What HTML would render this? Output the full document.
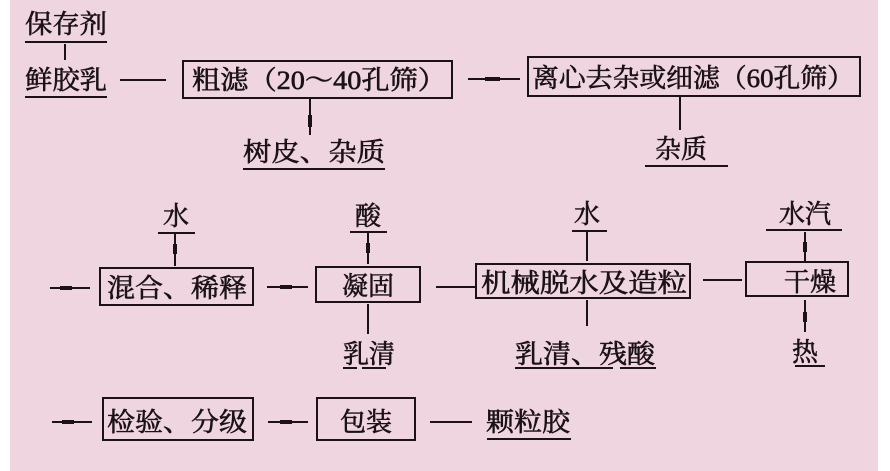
<!DOCTYPE html>
<html><head><meta charset="utf-8"><style>
html,body{margin:0;padding:0;width:890px;height:471px;overflow:hidden;background:#fff}
svg{display:block}
text{font-family:"Liberation Serif","Noto Serif CJK SC","Noto Sans CJK SC",serif;fill:#1a1216;stroke:#1a1216;stroke-width:0.6}
</style></head><body>
<svg width="890" height="471" viewBox="0 0 890 471" xmlns="http://www.w3.org/2000/svg">
<rect x="10" y="0" width="868" height="471" fill="#eed5df"/>
<g stroke="#1a1216" stroke-width="2" fill="none">
<line x1="25" y1="42" x2="107" y2="42"/>
<line x1="65" y1="44" x2="65" y2="60"/>
<line x1="25" y1="97" x2="107" y2="97"/>
<line x1="120" y1="80" x2="166" y2="80"/>
<rect x="183" y="61" width="269" height="37"/>
<line x1="310" y1="99" x2="310" y2="135"/>
<line x1="243" y1="169" x2="385" y2="169"/>
<line x1="468" y1="79" x2="520" y2="79"/>
<rect x="528" y="57" width="332" height="39"/>
<line x1="680" y1="97" x2="680" y2="130"/>
<line x1="645" y1="166" x2="728" y2="166"/>
<line x1="158" y1="233" x2="195" y2="233"/>
<line x1="175" y1="234" x2="175" y2="266"/>
<line x1="50" y1="288" x2="90" y2="288"/>
<rect x="100" y="268" width="153" height="37"/>
<line x1="267" y1="287" x2="308" y2="287"/>
<rect x="316" y="267" width="104" height="35"/>
<line x1="350" y1="232" x2="387" y2="232"/>
<line x1="368" y1="233" x2="368" y2="264"/>
<line x1="368" y1="304" x2="368" y2="334"/>
<line x1="343" y1="368" x2="357" y2="368"/><line x1="362" y1="368" x2="386" y2="368"/>
<line x1="436" y1="287" x2="475" y2="287"/>
<rect x="476" y="264" width="214" height="34"/>
<line x1="572" y1="231" x2="607" y2="231"/>
<line x1="587" y1="232" x2="587" y2="261"/>
<line x1="587" y1="300" x2="587" y2="326"/>
<line x1="515" y1="368" x2="613" y2="368"/><line x1="620" y1="368" x2="656" y2="368"/>
<line x1="703" y1="280" x2="742" y2="280"/>
<rect x="746" y="262" width="102" height="34"/>
<line x1="766" y1="230" x2="842" y2="230"/>
<line x1="805" y1="232" x2="805" y2="261"/>
<line x1="805" y1="300" x2="805" y2="332"/>
<line x1="795" y1="366" x2="825" y2="366"/>
<line x1="52" y1="422" x2="92" y2="422"/>
<rect x="103" y="398" width="150" height="42"/>
<line x1="268" y1="422" x2="308" y2="422"/>
<rect x="317" y="398" width="98" height="42"/>
<line x1="430" y1="422" x2="472" y2="422"/>
<line x1="487" y1="439" x2="571" y2="439"/>
</g>
<g stroke="#1a1216" stroke-width="4">
<line x1="310" y1="115" x2="310" y2="127"/>
<line x1="175" y1="244" x2="175" y2="254"/>
<line x1="368" y1="243" x2="368" y2="253"/>
<line x1="805" y1="242" x2="805" y2="252"/>
<line x1="805" y1="312" x2="805" y2="322"/>
<line x1="485" y1="79" x2="500" y2="79"/>
<line x1="60" y1="288" x2="72" y2="288"/>
<line x1="280" y1="287" x2="292" y2="287"/>
<line x1="62" y1="422" x2="74" y2="422"/>
<line x1="280" y1="422" x2="292" y2="422"/>
</g>
<g font-size="26">
<text x="25" y="33" textLength="82" lengthAdjust="spacingAndGlyphs">保存剂</text>
<text x="25" y="89" textLength="82" lengthAdjust="spacingAndGlyphs">鲜胶乳</text>
<text x="192" y="89" textLength="254" lengthAdjust="spacingAndGlyphs">粗滤（20～40孔筛）</text>
<text x="243" y="161" textLength="142" lengthAdjust="spacingAndGlyphs">树皮、杂质</text>
<text x="532" y="87" textLength="322" lengthAdjust="spacingAndGlyphs">离心去杂或细滤（60孔筛）</text>
<text x="655" y="158">杂质</text>
<text x="163" y="225">水</text>
<text x="355" y="225">酸</text>
<text x="107" y="297" textLength="140" lengthAdjust="spacingAndGlyphs">混合、稀释</text>
<text x="342" y="295">凝固</text>
<text x="343" y="363">乳清</text>
<text x="574" y="223">水</text>
<text x="481" y="292" textLength="206" lengthAdjust="spacingAndGlyphs">机械脱水及造粒</text>
<text x="515" y="363" textLength="140" lengthAdjust="spacingAndGlyphs">乳清、残酸</text>
<text x="779" y="223">水汽</text>
<text x="784" y="291">干燥</text>
<text x="792" y="361">热</text>
<text x="107" y="431" textLength="140" lengthAdjust="spacingAndGlyphs">检验、分级</text>
<text x="340" y="431">包装</text>
<text x="486" y="431" textLength="84" lengthAdjust="spacingAndGlyphs">颗粒胶</text>
</g>
</svg>
</body></html>
